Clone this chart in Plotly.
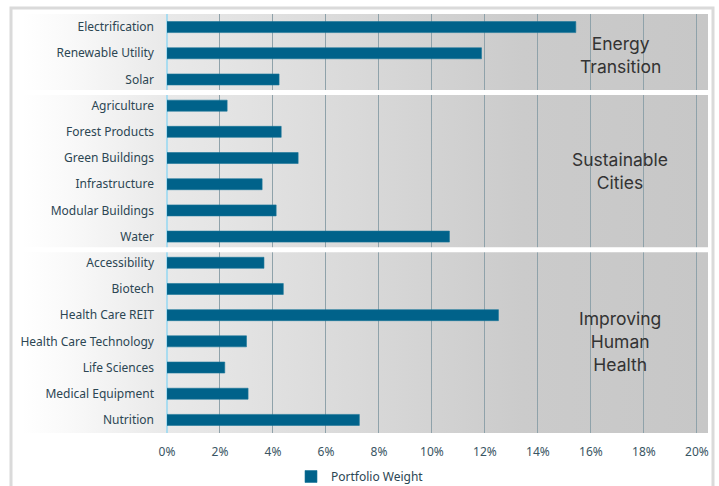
import base64
import plotly.graph_objects as go

categories = ["Electrification", "Renewable Utility", "Solar",
              "Agriculture", "Forest Products", "Green Buildings", "Infrastructure",
              "Modular Buildings", "Water",
              "Accessibility", "Biotech", "Health Care REIT", "Health Care Technology",
              "Life Sciences", "Medical Equipment", "Nutrition"]
weights = [15.43, 11.87, 4.23,
           2.27, 4.31, 4.95, 3.59, 4.12, 10.66,
           3.66, 4.39, 12.51, 3.00, 2.18, 3.06, 7.26]
groups = ["Energy<br>Transition", "Sustainable<br>Cities", "Improving<br>Human<br>Health"]
group_sizes = [3, 6, 7]
tick_vals = [0, 2, 4, 6, 8, 10, 12, 14, 16, 18, 20]
tick_text = [f"{v}%" for v in tick_vals]

BAR = "#00628a"
TXT = "#2c4653"

fig = go.Figure()
fig.add_trace(go.Bar(
    x=weights, y=categories, orientation="h", width=0.42,
    marker=dict(color=BAR, line=dict(color="#1a7598", width=0.6)),
    name="Portfolio Weight", showlegend=True,
))

# gradient background (SVG)
svg = ('<svg xmlns="http://www.w3.org/2000/svg" width="686" height="420" preserveAspectRatio="none">'
       '<defs><linearGradient id="g" x1="0" y1="0" x2="1" y2="0">'
       '<stop offset="0" stop-color="#ffffff"/>'
       '<stop offset="0.06" stop-color="#fafafa"/>'
       '<stop offset="0.21" stop-color="#e9e9e9"/>'
       '<stop offset="0.49" stop-color="#d9d9d9"/>'
       '<stop offset="0.73" stop-color="#cbcbcb"/>'
       '<stop offset="1" stop-color="#c7c7c7"/>'
       '</linearGradient></defs>'
       '<rect x="0" y="0" width="686" height="420" fill="url(#g)"/></svg>')
src = "data:image/svg+xml;base64," + base64.b64encode(svg.encode()).decode()

left_px, right_px = 167, 708
top_px, bottom_px = 14, 433
pw = right_px - left_px
ph = bottom_px - top_px
band_x0 = (22 - left_px) / pw

fig.add_layout_image(dict(source=src, xref="paper", yref="paper", x=band_x0, y=1,
                          sizex=1 - band_x0, sizey=1, sizing="stretch",
                          xanchor="left", yanchor="top", layer="below"))

# separators between groups
shapes = []
acc = 0
for s in group_sizes[:-1]:
    acc += s
    shapes.append(dict(type="line", xref="paper", yref="y", x0=band_x0, x1=1,
                       y0=acc - 0.5, y1=acc - 0.5, line=dict(color="white", width=5),
                       layer="above"))
# outer frame
shapes.append(dict(type="rect", xref="paper", yref="paper",
                   x0=(11 - left_px) / pw, x1=(713 - left_px) / pw,
                   y0=-(520 - bottom_px) / ph, y1=1 + (top_px - 8) / ph,
                   line=dict(color="#dadada", width=3),
                   fillcolor="rgba(0,0,0,0)", layer="below"))

# group labels
ann = []
centers = [1.05, 5.5, 12.0]
for g, c in zip(groups, centers):
    ann.append(dict(text=g, x=17.1, y=c, xref="x", yref="y", showarrow=False,
                    font=dict(family="Inter", size=17.5, color="#333333"), align="center"))

fig.update_layout(
    width=719, height=486,
    margin=dict(l=left_px, r=719 - right_px, t=top_px, b=486 - bottom_px, autoexpand=False),
    paper_bgcolor="white", plot_bgcolor="rgba(0,0,0,0)",
    shapes=shapes, annotations=ann,
    legend=dict(orientation="h", x=(291 - left_px) / pw, y=-(462 - bottom_px) / ph,
                xanchor="left", yanchor="top",
                font=dict(family="Noto Sans", size=12, color=TXT),
                bgcolor="rgba(0,0,0,0)", itemwidth=30),
    font=dict(family="Noto Sans", size=12, color=TXT),
)
fig.update_xaxes(range=[0, 20.42], tickvals=tick_vals, ticktext=tick_text,
                 showgrid=True, gridcolor="#8fa2aa", gridwidth=1,
                 zeroline=True, zerolinecolor="#a9dcf0", zerolinewidth=1.5,
                 showline=False, tickfont=dict(family="Noto Sans", size=12, color="#3a5563"),
                 ticks="", ticklabelstandoff=10, automargin=False)
fig.update_yaxes(autorange="reversed", showgrid=False, zeroline=False,
                 tickfont=dict(family="Noto Sans", size=12, color=TXT),
                 ticks="", ticklabelstandoff=12, automargin=False)

fig.write_html("out.html", config={"displayModeBar": False},
               post_script="document.body.style.margin='0';document.body.style.overflow='hidden';")
